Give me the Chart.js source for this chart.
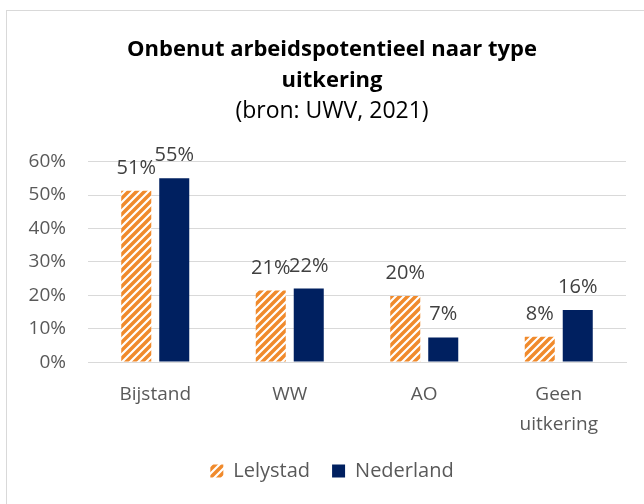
<!DOCTYPE html>
<html>
<head>
<meta charset="utf-8">
<script src="https://cdn.jsdelivr.net/npm/chart.js@4"></script>
<style>
  body { margin: 0; background: #fff; }
  #wrap { position: relative; width: 644px; height: 504px; overflow: hidden; }
  #frame { position: absolute; left: 6px; top: 10px; width: 660px; height: 520px; border: 1px solid #d9d9d9; box-sizing: border-box; }
  canvas { position: absolute; left: 0; top: 0; }
</style>
</head>
<body>
<div id="wrap">
  <div id="frame"></div>
  <canvas id="chart" width="644" height="504"></canvas>
</div>
<script>
const categories = ['Bijstand', 'WW', 'AO', ['Geen', 'uitkering']]
const lelystad = [51.3, 21.4, 19.8, 7.6]
const nederland = [55.0, 22.0, 7.4, 15.6]
const yTicks = [0, 10, 20, 30, 40, 50, 60]

const orange = '#F08A2C'
const navy = '#002060'
const textGray = '#595959'
const font = '"Open Sans", sans-serif'

function makeHatch() {
  const c = document.createElement('canvas')
  c.width = 8
  c.height = 8
  const g = c.getContext('2d')
  g.fillStyle = '#fff'
  g.fillRect(0, 0, 8, 8)
  g.strokeStyle = orange
  g.lineWidth = 3.5
  g.beginPath()
  g.moveTo(-2, 10); g.lineTo(10, -2)
  g.moveTo(-6, 6); g.lineTo(6, -6)
  g.moveTo(2, 14); g.lineTo(14, 2)
  g.stroke()
  return document.getElementById('chart').getContext('2d').createPattern(c, 'repeat')
}

// percentage labels above each bar
const valueLabels = {
  id: 'valueLabels',
  afterDatasetsDraw(chart) {
    const ctx = chart.ctx
    ctx.save()
    ctx.font = '20px ' + font
    ctx.fillStyle = '#404040'
    ctx.textAlign = 'center'
    ctx.textBaseline = 'alphabetic'
    chart.data.datasets.forEach((ds, i) => {
      chart.getDatasetMeta(i).data.forEach((bar, j) => {
        ctx.fillText(Math.round(ds.data[j]) + '%', bar.x, bar.y - 17)
      })
    })
    ctx.restore()
  }
}

const hatch = makeHatch()

new Chart(document.getElementById('chart'), {
  type: 'bar',
  data: {
    labels: categories,
    datasets: [
      { label: 'Lelystad', data: lelystad, backgroundColor: hatch, borderWidth: 0 },
      { label: 'Nederland', data: nederland, backgroundColor: navy, borderWidth: 0 }
    ]
  },
  options: {
    responsive: false,
    animation: false,
    layout: { padding: { left: 24, right: 4, top: 34, bottom: 13 } },
    categoryPercentage: 0.565,
    barPercentage: 0.79,
    scales: {
      x: {
        grid: { display: false },
        border: { color: '#d9d9d9' },
        ticks: { color: textGray, font: { size: 19, family: font, lineHeight: 1.55 }, padding: 10 },
        afterFit: axis => { axis.height -= 10 }
      },
      y: {
        min: 0,
        max: 60,
        afterBuildTicks: axis => { axis.ticks = yTicks.map(v => ({ value: v })) },
        afterFit: axis => { axis.width = 64 },
        grid: { color: '#d9d9d9', drawTicks: false },
        border: { display: false },
        ticks: {
          color: textGray,
          font: { size: 19, family: font },
          padding: 22,
          callback: v => v + '%'
        }
      },
      // empty right margin so title and legend sit centred like the original
      yRight: {
        position: 'right',
        grid: { display: false },
        border: { display: false },
        ticks: { display: false },
        afterFit: axis => { axis.width = 14 }
      }
    },
    plugins: {
      title: {
        display: true,
        text: ['Onbenut arbeidspotentieel naar type', 'uitkering'],
        color: '#000',
        font: { size: 22, weight: 'bold', family: font, lineHeight: 1.41 },
        padding: { top: 0, bottom: 0 }
      },
      subtitle: {
        display: true,
        text: '(bron: UWV, 2021)',
        color: '#000',
        font: { size: 23, family: font, lineHeight: 1.2 },
        padding: { top: 2, bottom: 36 }
      },
      legend: {
        position: 'bottom',
        labels: {
          color: textGray,
          font: { size: 20, family: font },
          boxWidth: 13,
          boxHeight: 13,
          padding: 22
        }
      },
      tooltip: { enabled: false }
    }
  },
  plugins: [valueLabels]
})
</script>
</body>
</html>
